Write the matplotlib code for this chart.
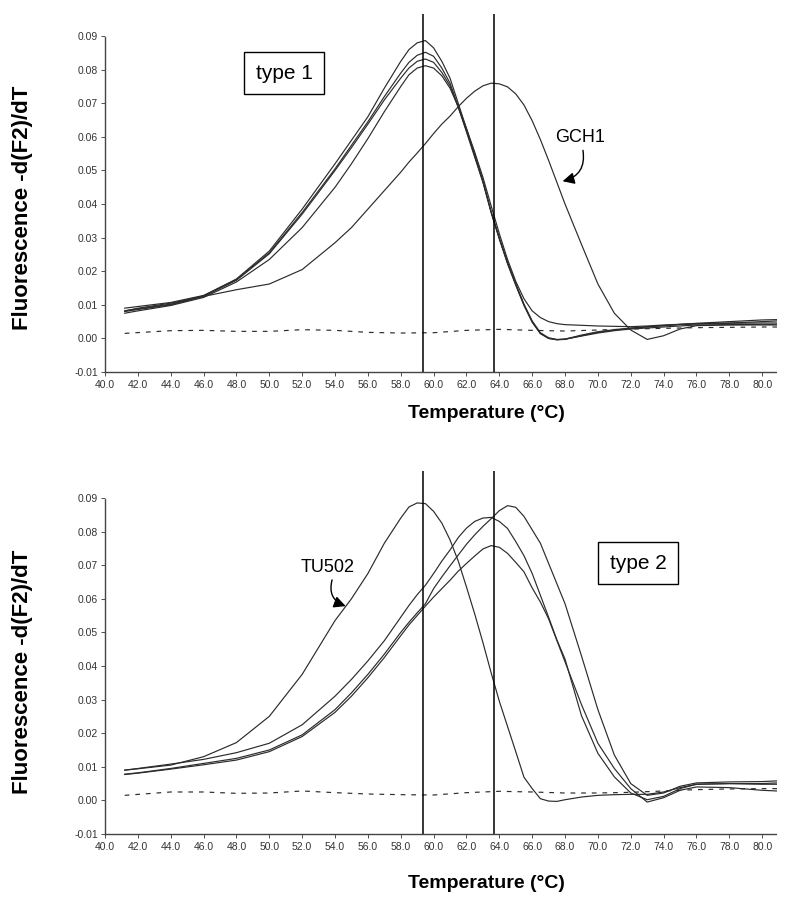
import matplotlib
matplotlib.use("Agg")
import matplotlib.pyplot as plt

plt.rcParams['font.family'] = ['Liberation Sans', 'DejaVu Sans']

# ---------------- data ----------------
temps = [41.2, 42, 44, 46, 48, 50, 52, 54, 55, 56, 57, 58, 58.5, 59, 59.5, 60, 60.5,
         61, 61.5, 62, 62.5, 63, 63.5, 64, 64.5, 65, 65.5, 66, 66.5, 67, 67.5, 68,
         69, 70, 71, 72, 73, 74, 75, 76, 78, 80, 80.9]

# type 1 panel
type1_a = [0.0082, 0.0088, 0.0102, 0.0127, 0.0177, 0.0260, 0.0385, 0.0520, 0.0590, 0.0660, 0.0745,
           0.0825, 0.0860, 0.0880, 0.0887, 0.0865, 0.0825, 0.0775, 0.0700, 0.0625, 0.0548, 0.0470,
           0.0378, 0.0298, 0.0225, 0.0162, 0.0100, 0.0050, 0.0015, 0.0000, -0.0004, -0.0003,
           0.0008, 0.0018, 0.0025, 0.0030, 0.0034, 0.0038, 0.0042, 0.0045, 0.0050, 0.0055, 0.0056]
type1_b = [0.0090, 0.0095, 0.0107, 0.0128, 0.0175, 0.0255, 0.0375, 0.0505, 0.0575, 0.0645, 0.0720,
           0.0790, 0.0822, 0.0843, 0.0852, 0.0840, 0.0805, 0.0760, 0.0690, 0.0618, 0.0543, 0.0467,
           0.0375, 0.0296, 0.0222, 0.0158, 0.0098, 0.0048, 0.0014, 0.0000, -0.0004, -0.0002,
           0.0010, 0.0020, 0.0026, 0.0031, 0.0035, 0.0038, 0.0041, 0.0043, 0.0045, 0.0046, 0.0046]
type1_c = [0.0080, 0.0086, 0.0100, 0.0125, 0.0173, 0.0252, 0.0370, 0.0500, 0.0568, 0.0638, 0.0710,
           0.0775, 0.0805, 0.0825, 0.0832, 0.0822, 0.0792, 0.0752, 0.0688, 0.0615, 0.0540, 0.0465,
           0.0376, 0.0298, 0.0226, 0.0162, 0.0102, 0.0052, 0.0017, 0.0002, -0.0003, -0.0002,
           0.0007, 0.0016, 0.0023, 0.0028, 0.0031, 0.0034, 0.0037, 0.0040, 0.0041, 0.0042, 0.0042]
type1_d = [0.0075, 0.0082, 0.0098, 0.0122, 0.0168, 0.0235, 0.0330, 0.0450, 0.0520, 0.0595, 0.0675,
           0.0750, 0.0785, 0.0805, 0.0812, 0.0805, 0.0782, 0.0745, 0.0690, 0.0625, 0.0555, 0.0480,
           0.0395, 0.0312, 0.0235, 0.0170, 0.0118, 0.0082, 0.0062, 0.0050, 0.0044, 0.0041,
           0.0039, 0.0037, 0.0036, 0.0035, 0.0037, 0.0040, 0.0042, 0.0044, 0.0046, 0.0050, 0.0052]
gch1 = [0.0082, 0.0090, 0.0105, 0.0125, 0.0145, 0.0162, 0.0205, 0.0285, 0.0330, 0.0385, 0.0440,
        0.0495, 0.0525, 0.0552, 0.0580, 0.0610, 0.0638, 0.0662, 0.0690, 0.0715, 0.0736, 0.0752,
        0.0760, 0.0758, 0.0749, 0.0728, 0.0695, 0.0648, 0.0592, 0.0530, 0.0465, 0.0400,
        0.0280, 0.0162, 0.0075, 0.0025, -0.0003, 0.0008, 0.0028, 0.0038, 0.0040, 0.0040, 0.0040]

# type 2 panel
tu502 = [0.0090, 0.0094, 0.0105, 0.0130, 0.0172, 0.0250, 0.0375, 0.0535, 0.0600, 0.0675, 0.0765,
         0.0840, 0.0873, 0.0885, 0.0883, 0.0860, 0.0825, 0.0775, 0.0712, 0.0635, 0.0555, 0.0470,
         0.0380, 0.0295, 0.0220, 0.0145, 0.0069, 0.0035, 0.0005, -0.0002, -0.0003, 0.0002,
         0.0010, 0.0015, 0.0017, 0.0018, 0.0018, 0.0025, 0.0038, 0.0048, 0.0050, 0.0048, 0.0048]
type2_a = [0.0078, 0.0082, 0.0095, 0.0110, 0.0125, 0.0150, 0.0195, 0.0270, 0.0320, 0.0375, 0.0435,
           0.0500, 0.0530, 0.0558, 0.0585, 0.0630, 0.0665, 0.0698, 0.0730, 0.0762, 0.0790, 0.0815,
           0.0838, 0.0862, 0.0877, 0.0872, 0.0845, 0.0805, 0.0765, 0.0705, 0.0645, 0.0585,
           0.0430, 0.0270, 0.0135, 0.0050, 0.0015, 0.0022, 0.0042, 0.0052, 0.0055, 0.0056, 0.0058]
type2_b = [0.0090, 0.0095, 0.0108, 0.0122, 0.0142, 0.0170, 0.0225, 0.0310, 0.0360, 0.0415, 0.0475,
           0.0545, 0.0580, 0.0612, 0.0640, 0.0675, 0.0712, 0.0745, 0.0782, 0.0810, 0.0830, 0.0840,
           0.0842, 0.0830, 0.0809, 0.0770, 0.0728, 0.0675, 0.0610, 0.0545, 0.0478, 0.0420,
           0.0252, 0.0140, 0.0070, 0.0022, 0.0002, 0.0012, 0.0035, 0.0048, 0.0050, 0.0050, 0.0052]
type2_c = [0.0077, 0.0081, 0.0093, 0.0106, 0.0120, 0.0145, 0.0190, 0.0262, 0.0310, 0.0365, 0.0425,
           0.0490, 0.0522, 0.0550, 0.0578, 0.0605, 0.0630, 0.0655, 0.0682, 0.0705, 0.0727, 0.0748,
           0.0758, 0.0753, 0.0735, 0.0708, 0.0680, 0.0632, 0.0590, 0.0540, 0.0476, 0.0412,
           0.0285, 0.0170, 0.0095, 0.0035, -0.0005, 0.0008, 0.0030, 0.0040, 0.0038, 0.0030, 0.0028]

# no-template controls (dashed)
base_temps = [41.2, 44, 46, 48, 50, 52, 54, 56, 58, 60, 62, 64, 66, 68, 70, 72, 74, 76, 78, 80, 80.9]
base_top = [0.0015, 0.0023, 0.0024, 0.0021, 0.0021, 0.0026, 0.0024, 0.0018, 0.0016, 0.0017, 0.0024,
            0.0027, 0.0024, 0.0022, 0.0025, 0.0028, 0.0030, 0.0032, 0.0033, 0.0034, 0.0034]
base_bottom = [0.0015, 0.0025, 0.0025, 0.0021, 0.0022, 0.0028, 0.0023, 0.0019, 0.0017, 0.0016, 0.0023,
               0.0027, 0.0025, 0.0022, 0.0022, 0.0024, 0.0028, 0.0032, 0.0034, 0.0035, 0.0035]

melt_lines = [59.35, 63.65]
x_ticks = [40, 42, 44, 46, 48, 50, 52, 54, 56, 58, 60, 62, 64, 66, 68, 70, 72, 74, 76, 78, 80]
y_ticks = [-0.01, 0.00, 0.01, 0.02, 0.03, 0.04, 0.05, 0.06, 0.07, 0.08, 0.09]

# ---------------- drawing ----------------
fig = plt.figure(figsize=(8.0, 9.05), dpi=100)
ax1 = fig.add_axes([0.13125, 0.58895, 0.84, 0.3956])
ax2 = fig.add_axes([0.13125, 0.07845, 0.84, 0.4011])

line_kw = dict(color='#2b2b2b', lw=0.85)
dash_kw = dict(color='#2b2b2b', lw=0.85, dashes=(4, 5))


def style_axes(ax, ytop):
    ax.set_xlim(40, 80.9)
    ax.set_ylim(-0.01, ytop)
    for s in ('top', 'right'):
        ax.spines[s].set_visible(False)
    for s in ('left', 'bottom'):
        ax.spines[s].set_linestyle((0, (1, 1)))
        ax.spines[s].set_linewidth(1.0)
        ax.spines[s].set_color('#444444')
    ax.spines['left'].set_bounds(-0.01, 0.09)
    ax.set_xticks(x_ticks)
    ax.set_xticklabels([f"{t:.1f}" for t in x_ticks])
    ax.set_yticks(y_ticks)
    ax.set_yticklabels([f"{v:.2f}" for v in y_ticks])
    ax.tick_params(axis='both', labelsize=7.5, colors='#333333', length=3, width=0.6, pad=2)
    ax.tick_params(axis='x', pad=3)
    for v in melt_lines:
        ax.axvline(v, color='black', lw=1.1)


for ys in (type1_a, type1_b, type1_c, type1_d, gch1):
    ax1.plot(temps, ys, **line_kw)
ax1.plot(base_temps, base_top, **dash_kw)
style_axes(ax1, 0.0966)

for ys in (tu502, type2_a, type2_b, type2_c):
    ax2.plot(temps, ys, **line_kw)
ax2.plot(base_temps, base_bottom, **dash_kw)
style_axes(ax2, 0.098)

box_kw = dict(boxstyle='square,pad=0.55', fc='white', ec='black', lw=1.0)
ax1.text(50.9, 0.0790, 'type 1', fontsize=15, ha='center', va='center', bbox=box_kw)
ax2.text(72.44, 0.0706, 'type 2', fontsize=15, ha='center', va='center', bbox=box_kw)

arrow_kw = dict(arrowstyle='-|>,head_length=0.7,head_width=0.35', color='black', lw=1.0,
                shrinkA=0, shrinkB=0)
ax1.text(68.9, 0.0599, 'GCH1', fontsize=13, ha='center', va='center')
ax1.annotate('', xy=(67.85, 0.0468), xytext=(69.09, 0.0560),
             arrowprops=dict(connectionstyle='arc3,rad=-0.45', **arrow_kw))
ax2.text(53.57, 0.0694, 'TU502', fontsize=13, ha='center', va='center')
ax2.annotate('', xy=(54.65, 0.0578), xytext=(53.82, 0.0656),
             arrowprops=dict(connectionstyle='arc3,rad=0.45', **arrow_kw))

ylab = 'Fluorescence -d(F2)/dT'
xlab = 'Temperature (°C)'
fig.text(23 / 800, 1 - 208 / 905, ylab, rotation=90, ha='center', va='center',
         fontsize=16, fontweight='bold')
fig.text(23 / 800, 1 - 672 / 905, ylab, rotation=90, ha='center', va='center',
         fontsize=16, fontweight='bold')
fig.text(486 / 800, 1 - 413 / 905, xlab, ha='center', va='center', fontsize=14, fontweight='bold')
fig.text(486 / 800, 1 - 883 / 905, xlab, ha='center', va='center', fontsize=14, fontweight='bold')

fig.savefig('out.png', dpi=100, facecolor='white')
